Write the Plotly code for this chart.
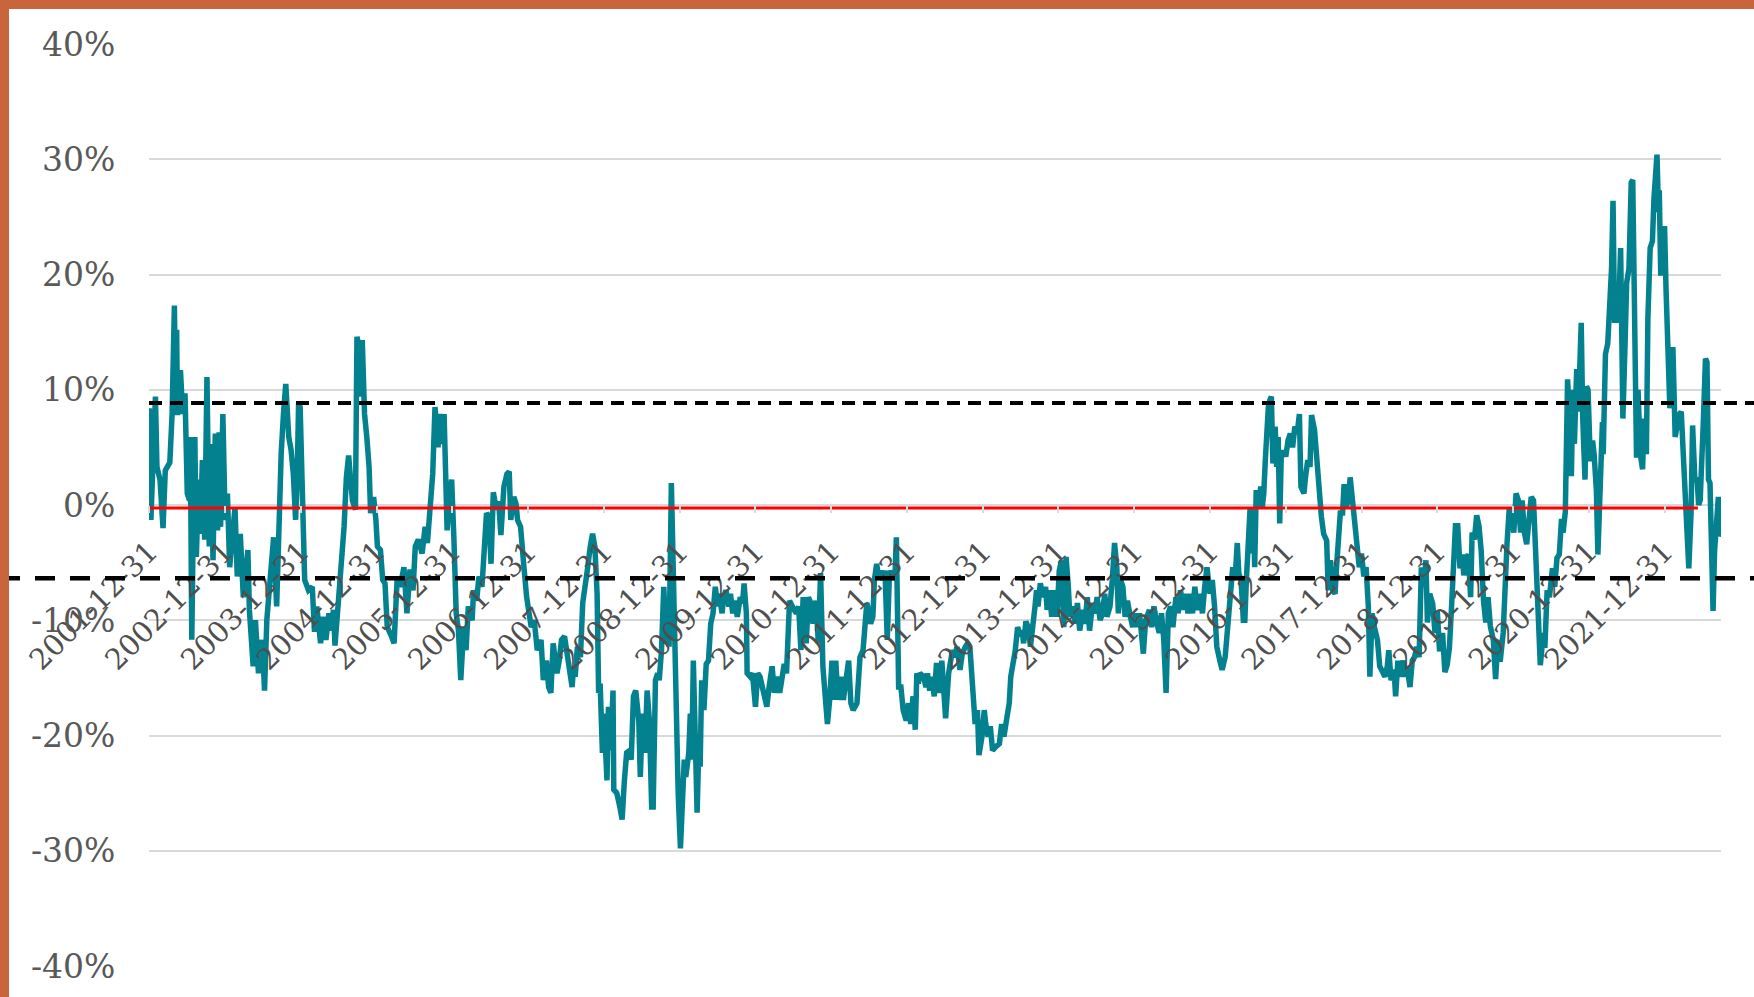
import plotly.graph_objects as go

# ---------------- data (decimal year, % value) ----------------
years = [
    2002.00, 2002.02, 2002.08, 2002.10, 2002.14, 2002.18, 2002.21, 2002.27, 2002.30, 2002.33,
    2002.34, 2002.36, 2002.37, 2002.41, 2002.44, 2002.47, 2002.50, 2002.53, 2002.54, 2002.56,
    2002.59, 2002.60, 2002.62, 2002.65, 2002.67, 2002.70, 2002.73, 2002.76, 2002.79, 2002.81,
    2002.84, 2002.87, 2002.90, 2002.92, 2002.94, 2002.97, 2003.00, 2003.03, 2003.06, 2003.10,
    2003.13, 2003.16, 2003.20, 2003.24, 2003.30, 2003.32, 2003.37, 2003.40, 2003.44, 2003.49,
    2003.52, 2003.55, 2003.60, 2003.64, 2003.68, 2003.71, 2003.74, 2003.77, 2003.80, 2003.84,
    2003.87, 2003.90, 2003.93, 2003.95, 2003.97, 2003.99, 2004.02, 2004.05, 2004.10, 2004.15,
    2004.18, 2004.21, 2004.26, 2004.29, 2004.33, 2004.37, 2004.40, 2004.43, 2004.45, 2004.50,
    2004.54, 2004.57, 2004.60, 2004.63, 2004.65, 2004.68, 2004.72, 2004.74, 2004.77, 2004.78,
    2004.81, 2004.84, 2004.87, 2004.90, 2004.92, 2004.96, 2004.99, 2005.01, 2005.05, 2005.08,
    2005.11, 2005.14, 2005.19, 2005.23, 2005.27, 2005.31, 2005.36, 2005.40, 2005.44, 2005.48,
    2005.51, 2005.55, 2005.60, 2005.64, 2005.67, 2005.71, 2005.74, 2005.77, 2005.81, 2005.84,
    2005.86, 2005.89, 2005.93, 2005.96, 2005.99, 2006.02, 2006.05, 2006.08, 2006.11,
    2006.15, 2006.18, 2006.21, 2006.26, 2006.28, 2006.32, 2006.35, 2006.39, 2006.42, 2006.45,
    2006.48, 2006.51, 2006.54, 2006.58, 2006.61, 2006.64, 2006.68, 2006.72, 2006.75, 2006.77,
    2006.81, 2006.84, 2006.86, 2006.90, 2006.94, 2006.98, 2007.04, 2007.08, 2007.12, 2007.17,
    2007.20, 2007.24, 2007.27, 2007.30, 2007.33, 2007.38, 2007.41, 2007.44, 2007.48, 2007.51,
    2007.54, 2007.58, 2007.60, 2007.62, 2007.65, 2007.69, 2007.72, 2007.75, 2007.78, 2007.82,
    2007.85, 2007.88, 2007.91, 2007.93, 2007.95, 2007.98, 2008.00, 2008.04, 2008.06, 2008.09,
    2008.12, 2008.13, 2008.17, 2008.21, 2008.24, 2008.27, 2008.30, 2008.34, 2008.36, 2008.39,
    2008.42, 2008.46, 2008.48, 2008.51, 2008.54, 2008.57, 2008.60, 2008.63, 2008.65, 2008.68,
    2008.71, 2008.73, 2008.76, 2008.79, 2008.82, 2008.84, 2008.86, 2008.89, 2008.92, 2008.95,
    2008.98, 2009.01, 2009.04, 2009.06, 2009.08, 2009.12, 2009.14, 2009.16, 2009.18, 2009.20,
    2009.23, 2009.25, 2009.27, 2009.29, 2009.32, 2009.35, 2009.38, 2009.41, 2009.44, 2009.47,
    2009.50, 2009.52, 2009.56, 2009.58, 2009.61, 2009.65, 2009.67, 2009.70, 2009.73, 2009.76,
    2009.80, 2009.83, 2009.85, 2009.88, 2009.89, 2009.93, 2009.96, 2010.00, 2010.03, 2010.06,
    2010.09, 2010.12, 2010.15, 2010.18, 2010.22, 2010.25, 2010.28, 2010.32, 2010.35, 2010.38,
    2010.41, 2010.45,
    2010.51, 2010.54, 2010.57, 2010.60, 2010.63, 2010.67, 2010.70, 2010.73, 2010.76, 2010.80,
    2010.83, 2010.86, 2010.89, 2010.92, 2010.95, 2010.98, 2011.01, 2011.04, 2011.06, 2011.09,
    2011.13, 2011.16, 2011.20, 2011.23, 2011.26, 2011.29, 2011.34, 2011.38, 2011.42, 2011.45,
    2011.47, 2011.49, 2011.52, 2011.55, 2011.57, 2011.60, 2011.63, 2011.65, 2011.68, 2011.71,
    2011.74, 2011.77, 2011.80, 2011.82, 2011.84, 2011.86, 2011.89, 2011.92, 2011.95, 2011.99,
    2012.02, 2012.05, 2012.08, 2012.11, 2012.13, 2012.15, 2012.17, 2012.22, 2012.25, 2012.27,
    2012.30, 2012.33, 2012.36, 2012.39, 2012.43, 2012.46, 2012.48, 2012.51, 2012.55, 2012.58,
    2012.60, 2012.63, 2012.66, 2012.70, 2012.73, 2012.77, 2012.80, 2012.83, 2012.87, 2012.90,
    2012.93, 2012.95, 2012.99, 2013.02, 2013.04, 2013.07, 2013.10, 2013.13, 2013.17, 2013.22,
    2013.25, 2013.28, 2013.32, 2013.35, 2013.37, 2013.40, 2013.43, 2013.46, 2013.49, 2013.52,
    2013.54, 2013.57, 2013.60, 2013.63, 2013.66, 2013.69, 2013.71, 2013.73, 2013.76, 2013.80,
    2013.83, 2013.85, 2013.88, 2013.91, 2013.94, 2013.98, 2014.01, 2014.04, 2014.07, 2014.10,
    2014.13, 2014.15, 2014.19, 2014.22, 2014.25, 2014.28, 2014.32, 2014.35, 2014.38, 2014.41,
    2014.45, 2014.48, 2014.51, 2014.55,
    2014.58, 2014.61, 2014.64, 2014.68, 2014.71, 2014.74, 2014.77, 2014.79, 2014.82, 2014.85,
    2014.88, 2014.91, 2014.94, 2014.98, 2015.01, 2015.04, 2015.07, 2015.12, 2015.15, 2015.20,
    2015.23, 2015.26, 2015.29, 2015.33, 2015.36, 2015.39, 2015.42, 2015.45, 2015.48, 2015.51,
    2015.55, 2015.58, 2015.61, 2015.65, 2015.68, 2015.71, 2015.74, 2015.77, 2015.80, 2015.83,
    2015.87, 2015.90, 2015.93, 2015.96, 2016.00, 2016.03, 2016.06, 2016.09, 2016.13, 2016.16,
    2016.20, 2016.23, 2016.26, 2016.30, 2016.33, 2016.36, 2016.38, 2016.41, 2016.44, 2016.46,
    2016.48, 2016.50, 2016.53, 2016.55, 2016.57, 2016.59, 2016.61, 2016.64, 2016.67, 2016.69,
    2016.71, 2016.73, 2016.75, 2016.77, 2016.79, 2016.81, 2016.83, 2016.86, 2016.88, 2016.90,
    2016.92, 2016.94, 2016.97, 2017.00, 2017.03, 2017.06, 2017.09, 2017.12, 2017.15, 2017.18,
    2017.20, 2017.24, 2017.26, 2017.29, 2017.32, 2017.34, 2017.38, 2017.41, 2017.44, 2017.47,
    2017.50, 2017.54, 2017.56, 2017.59, 2017.62, 2017.65, 2017.67, 2017.69, 2017.72, 2017.75,
    2017.77, 2017.80, 2017.83, 2017.85, 2017.88, 2017.91, 2017.94, 2017.97, 2018.00, 2018.03,
    2018.06, 2018.09, 2018.11, 2018.14, 2018.17, 2018.21, 2018.24, 2018.28, 2018.31, 2018.34,
    2018.36, 2018.39, 2018.43, 2018.45, 2018.48, 2018.51, 2018.55, 2018.57, 2018.60, 2018.64,
    2018.67, 2018.70, 2018.73, 2018.76, 2018.79, 2018.82, 2018.85,
    2018.87, 2018.90, 2018.94, 2018.97, 2019.00, 2019.03, 2019.07, 2019.10, 2019.13, 2019.16,
    2019.19, 2019.22, 2019.24, 2019.27, 2019.30, 2019.33, 2019.35, 2019.38, 2019.41, 2019.44,
    2019.46, 2019.49, 2019.52, 2019.55, 2019.58, 2019.61, 2019.64, 2019.67, 2019.70, 2019.74,
    2019.77, 2019.80, 2019.83, 2019.87, 2019.89, 2019.92, 2019.95, 2019.98, 2020.01, 2020.04,
    2020.07, 2020.10, 2020.12, 2020.15, 2020.18, 2020.21, 2020.24, 2020.27, 2020.30, 2020.33,
    2020.36, 2020.40, 2020.42, 2020.45, 2020.48, 2020.52, 2020.55, 2020.58, 2020.61, 2020.64,
    2020.66, 2020.69, 2020.70, 2020.72, 2020.75, 2020.77, 2020.79, 2020.81, 2020.84, 2020.86,
    2020.88, 2020.90, 2020.92, 2020.95, 2020.97, 2020.99, 2021.02, 2021.05, 2021.07, 2021.10,
    2021.12, 2021.15, 2021.18, 2021.19, 2021.22, 2021.25, 2021.27, 2021.30, 2021.32, 2021.34,
    2021.36, 2021.39, 2021.42, 2021.43, 2021.45, 2021.48, 2021.50, 2021.53, 2021.56, 2021.58,
    2021.60, 2021.63, 2021.65, 2021.68, 2021.71, 2021.73, 2021.76, 2021.78, 2021.81, 2021.84,
    2021.86, 2021.88, 2021.90, 2021.92, 2021.93, 2021.95, 2021.98, 2022.00, 2022.02, 2022.04,
    2022.07, 2022.09, 2022.11, 2022.14, 2022.16, 2022.19, 2022.22, 2022.24, 2022.27, 2022.30,
    2022.32, 2022.35, 2022.37, 2022.40, 2022.43, 2022.45, 2022.47, 2022.51, 2022.54, 2022.56,
    2022.58, 2022.60, 2022.62, 2022.64, 2022.66, 2022.69, 2022.71, 2022.73, 2022.75,
]

values = [
    8.4, -1.3, 9.4, 3.3, 2.2, -2.0, 3.0, 3.7, 7.9, 17.3,
    12.3, 15.2, 7.8, 11.7, 7.9, 9.7, 1.0, 0.4, 5.9, -11.7,
    4.2, 5.9, -4.5, 2.2, -2.5, 3.9, -3.0, 11.1, -3.6, 5.3,
    -4.8, 6.2, -2.2, 6.3, -1.9, 7.9, -1.3, 1.0, -5.4, -2.5,
    -0.2, -6.2, -2.5, -8.0, -3.9, -9.1, -14.0, -10.0, -14.6, -11.7,
    -16.1, -10.0, -5.9, -2.8, -8.8, -0.7, 4.5, 7.9, 10.5, 5.9,
    4.8, 2.7, -1.3, 2.2, 8.9, 8.5, -0.7, -6.5, -7.4, -7.1,
    -11.0, -8.8, -12.0, -9.7, -11.7, -9.4, -10.9, -9.1, -12.2, -8.2,
    -4.2, -1.9, 2.4, 4.3, 2.7, 0.4, -0.4, 14.6, 13.7, 9.4,
    14.3, 7.9, 5.9, 3.3, -0.7, 0.7, -1.3, -3.6, -3.9, -6.5,
    -6.8, -10.6, -11.3, -12.0, -6.5, -7.1, -5.4, -9.4, -5.6, -7.4,
    -3.6, -3.0, -4.2, -1.9, -3.3, 0.4, 2.7, 8.5, 5.0, 7.9,
    5.3, 7.9, -2.2, 0.4, 2.2, -3.0, -9.4, -10.9, -15.2,
    -10.6, -12.6, -8.8, -10.0, -7.4, -8.3, -6.2, -7.1, -3.9, -0.7,
    -1.0, -5.1, 1.1, -0.4, 0.3, -2.6, 1.6, 2.7, 2.9, -1.3,
    0.7, 0.1, -1.3, -1.9, -5.1, -8.0, -10.6, -10.0, -12.6, -11.7,
    -15.2, -13.5, -15.8, -16.3, -12.0, -14.6, -13.5, -11.7, -11.4, -12.9,
    -13.5, -15.8, -14.0, -14.9, -12.3, -13.2, -8.5, -7.4, -5.7, -3.6,
    -2.5, -3.6, -7.7, -16.3, -15.5, -21.5, -18.1, -23.9, -17.5, -21.3,
    -16.1, -24.7, -25.0, -26.2, -27.3, -23.9, -21.5, -21.3, -22.1, -16.6,
    -16.1, -18.7, -23.6, -18.1, -21.5, -16.1, -18.7, -26.2, -26.2, -15.2,
    -14.6, -15.2, -12.6, -7.1, -12.0, -8.3, -12.3, 1.9, -8.3, -17.8,
    -25.0, -29.8, -25.3, -22.1, -23.6, -21.5, -18.1, -22.1, -13.5, -18.4,
    -26.7, -21.5, -22.7, -15.2, -17.8, -13.8, -13.5, -10.3, -9.4, -7.1,
    -8.8, -7.7, -9.4, -8.0, -7.4, -8.8, -7.7, -9.4, -8.3, -9.7,
    -8.0, -8.5, -6.8, -9.4, -14.6, -14.9, -14.6, -17.5, -14.6, -14.9,
    -15.8, -16.3, -17.5, -15.8, -14.0, -16.3, -14.9, -16.3, -14.6, -13.8,
    -14.6, -8.3,
    -9.1, -9.4, -8.8, -12.6, -8.0, -12.0, -8.0, -8.5, -10.3, -8.3,
    -12.0, -5.9, -14.0, -16.1, -19.0, -16.9, -13.5, -16.9, -13.5, -16.9,
    -14.9, -16.9, -14.3, -13.5, -17.2, -17.8, -17.2, -13.2, -12.6, -10.6,
    -8.5, -9.1, -10.3, -9.7, -6.5, -5.1, -6.5, -5.7, -6.5, -5.7,
    -11.7, -5.7, -6.2, -5.9, -6.5, -2.8, -15.8, -15.8, -17.8, -18.7,
    -17.2, -19.0, -16.6, -19.5, -14.6, -15.5, -14.6, -14.9, -15.8, -14.6,
    -16.1, -14.9, -16.6, -13.7, -16.3, -13.5, -15.5, -18.5, -14.6, -13.7,
    -12.6, -13.2, -12.3, -14.3, -12.9, -12.3, -12.0, -12.3, -15.5, -19.0,
    -17.8, -21.7, -20.1, -17.8, -19.0, -20.1, -19.2, -21.3, -21.0, -20.7,
    -19.0, -20.1, -18.4, -17.2, -14.9, -14.0, -12.6, -10.6, -11.1, -10.9,
    -12.0, -10.1, -10.6, -12.3, -10.9, -8.8, -7.4, -8.8, -6.8, -8.0,
    -7.1, -9.1, -7.4, -9.7, -7.4, -9.7, -5.7, -4.8, -10.6, -4.5,
    -7.1, -9.7, -8.8, -10.3, -8.5, -10.9, -9.1, -10.3, -8.0, -10.9,
    -8.5, -9.4, -8.0, -10.0,
    -9.4, -7.7, -9.7, -8.8, -6.5, -3.3, -5.4, -9.4, -6.5, -7.1,
    -9.7, -8.3, -9.4, -10.6, -9.4, -10.6, -9.4, -12.9, -10.0, -9.1,
    -10.6, -8.8, -10.0, -11.1, -9.4, -11.7, -16.3, -9.4, -8.8, -10.6,
    -8.0, -9.4, -7.4, -9.1, -7.7, -9.4, -7.7, -9.4, -7.1, -9.1,
    -7.7, -9.4, -7.1, -5.4, -7.7, -6.5, -8.8, -12.3, -13.5, -14.3,
    -13.2, -10.6, -8.8, -5.4, -6.5, -3.3, -5.9, -6.5, -10.0, -10.0,
    -6.5, -3.6, -0.2, -4.2, -0.2, -5.4, 1.3, -0.2, 1.6, -0.2,
    1.0, 3.9, 7.4, 8.5, 9.1, 9.4, 3.6, 6.8, 3.3, 5.9,
    -1.6, 4.2, 4.7, 4.2, 5.6, 6.2, 5.0, 6.8, 6.2, 7.9,
    1.6, 1.0, 2.4, 3.9, 3.3, 7.8, 6.5, 3.6, 1.0, -1.0,
    -2.5, -3.1, -7.4, -4.8, -7.4, -7.7, -5.4, -2.8, -0.7, -0.7,
    1.8, -0.2, 0.7, 2.4, 0.4, -1.9, -4.2, -5.4, -4.2, -6.2,
    -5.4, -8.8, -14.9, -9.4, -10.6, -11.7, -14.0, -14.6, -14.9, -14.0,
    -12.6, -15.2, -14.3, -16.6, -13.5, -14.9, -13.5, -14.9, -14.0, -15.8,
    -13.5, -13.2, -12.3, -13.2, -5.4, -7.1, -4.8,
    -10.2, -7.7, -8.6, -11.1, -9.2, -12.7, -11.1, -14.5, -13.9, -12.4,
    -8.6, -5.5, -1.8, -1.8, -5.5, -4.3, -6.1, -4.6, -4.3, -8.0,
    -2.4, -3.0, -0.9, -1.8, -4.0, -8.3, -10.2, -8.0, -10.5, -11.7,
    -15.1, -11.7, -13.6, -11.1, -7.1, -3.4, -0.3, -0.9, -2.4, 1.0,
    0.4, -2.4, 0.4, -2.4, -3.4, -1.2, 0.7, 0.4, -5.5, -11.1,
    -13.9, -11.1, -12.4, -7.4, -8.0, -5.5, -7.1, -4.6, -4.3, -1.2,
    -2.4, -0.6, 2.5, 10.9, 6.9, 2.5, 10.0, 5.3, 11.8, 8.1,
    11.8, 15.8, 7.5, 2.2, 10.3, 10.0, 3.8, 5.6, 4.4, 1.3,
    -4.3, 2.2, 7.2, 4.4, 13.1, 14.0, 16.5, 20.5, 26.4, 15.8,
    18.6, 15.8, 22.3, 18.6, 7.5, 14.3, 19.3, 20.5, 28.0, 28.2,
    19.6, 4.1, 10.0, 4.4, 3.1, 7.5, 4.4, 16.2, 22.3, 22.9,
    26.6, 29.8, 30.4, 25.4, 27.3, 19.9, 22.3, 24.2, 18.6, 13.7,
    8.4, 10.3, 13.7, 5.9, 6.9, 7.8, 8.1, 5.6, 2.8, -1.2,
    -5.5, -0.6, 6.9, 2.2, 2.2, 0.0, 0.4, 6.9, 12.7, 12.4,
    2.2, 1.9, -4.0, -9.2, -4.0, 0.4, 0.7, -2.7, -2.4,
]

zero_line_years = [2002.00, 2022.44]
zero_line_values = [-0.25, -0.25]
upper_threshold = 8.85
lower_threshold = -6.36

y_tick_values = [-40, -30, -20, -10, 0, 10, 20, 30, 40]
y_tick_labels = ["-40%", "-30%", "-20%", "-10%", "0%", "10%", "20%", "30%", "40%"]
x_tick_values = [2002, 2003, 2004, 2005, 2006, 2007, 2008, 2009, 2010, 2011, 2012,
                 2013, 2014, 2015, 2016, 2017, 2018, 2019, 2020, 2021, 2022]
x_tick_labels = ["2001-12-31", "2002-12-31", "2003-12-31", "2004-12-31", "2005-12-31",
                 "2006-12-31", "2007-12-31", "2008-12-31", "2009-12-31", "2010-12-31",
                 "2011-12-31", "2012-12-31", "2013-12-31", "2014-12-31", "2015-12-31",
                 "2016-12-31", "2017-12-31", "2018-12-31", "2019-12-31", "2020-12-31",
                 "2021-12-31"]

# ---------------- styling ----------------
W, H = 1754, 997
ML, MR, MT, MB = 149, 33, 44, 31
PW = W - ML - MR
PH = H - MT - MB
TEAL = "#04818F"
ORANGE = "#C9653B"
GREY_TEXT = "#595959"
GRID = "#D9D9D9"
FONT = "DejaVu Serif"
BORDER = 9

fig = go.Figure()
fig.add_trace(go.Scatter(x=years, y=values, mode="lines",
                         line=dict(color=TEAL, width=5.5), showlegend=False))
fig.add_trace(go.Scatter(x=zero_line_years, y=zero_line_values, mode="lines",
                         line=dict(color="#FF0000", width=3), showlegend=False))

right_edge = (W - ML) / PW
left_edge = -ML / PW
shapes = [
    dict(type="line", xref="paper", yref="y", x0=0, x1=right_edge,
         y0=upper_threshold, y1=upper_threshold, layer="above",
         line=dict(color="black", width=4, dash="13px,8px")),
    dict(type="line", xref="paper", yref="y", x0=left_edge, x1=right_edge,
         y0=lower_threshold, y1=lower_threshold, layer="above",
         line=dict(color="black", width=4.5, dash="20px,15px")),
    dict(type="rect", xref="paper", yref="paper", x0=left_edge, x1=right_edge,
         y0=1 + (MT - BORDER) / PH, y1=1 + MT / PH + 0.01, layer="above",
         fillcolor=ORANGE, line=dict(width=0)),
    dict(type="rect", xref="paper", yref="paper", x0=left_edge - 0.01,
         x1=(BORDER - ML) / PW, y0=-MB / PH - 0.01, y1=1 + MT / PH + 0.01,
         layer="above", fillcolor=ORANGE, line=dict(width=0)),
]

fig.update_layout(
    width=W, height=H,
    margin=dict(l=ML, r=MR, t=MT, b=MB),
    paper_bgcolor="white", plot_bgcolor="white",
    showlegend=False,
    shapes=shapes,
    xaxis=dict(range=[2001.995, 2022.745], tickmode="array",
               tickvals=x_tick_values, ticktext=x_tick_labels, tickangle=-45,
               anchor="free", position=0.5, showgrid=False, zeroline=False,
               showline=False, ticks="outside", ticklen=7, tickwidth=1.5,
               tickcolor=GRID, ticklabelstandoff=10,
               tickfont=dict(family=FONT, size=29, color="#4F4F4F")),
    yaxis=dict(range=[-40, 40], tickmode="array", tickvals=y_tick_values,
               ticktext=y_tick_labels, showgrid=True, gridcolor=GRID,
               gridwidth=1.5, zeroline=False, showline=False,
               ticks="outside", ticklen=26, tickcolor="rgba(0,0,0,0)",
               tickfont=dict(family=FONT, size=33, color=GREY_TEXT)),
)

fig.write_html("out.html", config={"displayModeBar": False},
               post_script="document.body.style.margin='0';document.body.style.overflow='hidden';")
